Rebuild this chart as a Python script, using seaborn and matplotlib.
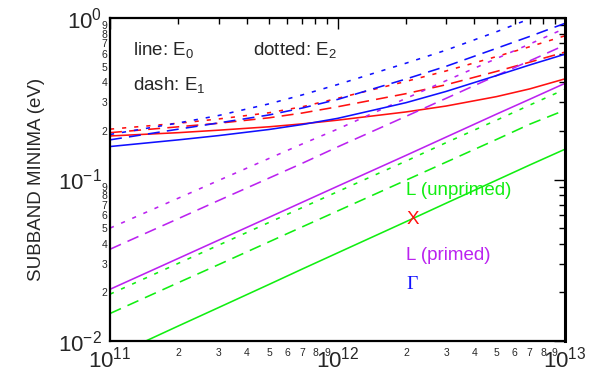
import numpy as np
import pandas as pd
import matplotlib
matplotlib.use("Agg")
import matplotlib.pyplot as plt
import matplotlib.ticker as mticker
import seaborn as sns

# ---- data ----
density = [1e11, 2e11, 3e11, 5e11, 7e11, 1e12, 2e12, 3e12, 5e12, 7e12, 1e13]

gamma_E0 = [0.160, 0.176, 0.187, 0.204, 0.219, 0.239, 0.299, 0.351, 0.440, 0.512, 0.597]
gamma_E1 = [0.176, 0.205, 0.224, 0.251, 0.277, 0.313, 0.419, 0.502, 0.649, 0.769, 0.927]
gamma_E2 = [0.190, 0.224, 0.249, 0.294, 0.334, 0.387, 0.525, 0.632, 0.822, 0.989, 1.190]

x_E0 = [0.186, 0.195, 0.202, 0.212, 0.221, 0.233, 0.262, 0.285, 0.326, 0.364, 0.420]
x_E1 = [0.195, 0.212, 0.223, 0.241, 0.258, 0.282, 0.340, 0.386, 0.467, 0.533, 0.615]
x_E2 = [0.205, 0.223, 0.237, 0.259, 0.282, 0.318, 0.405, 0.470, 0.577, 0.664, 0.776]

lp_E0 = [0.0209, 0.0325, 0.0421, 0.0583, 0.0723, 0.0908, 0.141, 0.183, 0.254, 0.314, 0.394]
lp_E1 = [0.0370, 0.0573, 0.0741, 0.102, 0.126, 0.159, 0.246, 0.318, 0.440, 0.543, 0.680]
lp_E2 = [0.0500, 0.0767, 0.0986, 0.135, 0.166, 0.205, 0.318, 0.409, 0.561, 0.690, 0.863]

lu_E0 = [0.0079, 0.0124, 0.0161, 0.0224, 0.0279, 0.0351, 0.0548, 0.0713, 0.099, 0.123, 0.154]
lu_E1 = [0.0148, 0.0230, 0.0297, 0.0411, 0.0509, 0.0638, 0.099, 0.128, 0.177, 0.220, 0.269]
lu_E2 = [0.0195, 0.0303, 0.0392, 0.0542, 0.0670, 0.084, 0.130, 0.169, 0.233, 0.289, 0.362]

valleys = ["L (unprimed)", "X", "L (primed)", "Gamma"]
levels = ["E0", "E1", "E2"]
series = {
    ("Gamma", "E0"): gamma_E0, ("Gamma", "E1"): gamma_E1, ("Gamma", "E2"): gamma_E2,
    ("X", "E0"): x_E0, ("X", "E1"): x_E1, ("X", "E2"): x_E2,
    ("L (primed)", "E0"): lp_E0, ("L (primed)", "E1"): lp_E1, ("L (primed)", "E2"): lp_E2,
    ("L (unprimed)", "E0"): lu_E0, ("L (unprimed)", "E1"): lu_E1, ("L (unprimed)", "E2"): lu_E2,
}

rows = []
for (v, lev), vals in series.items():
    for n, e in zip(density, vals):
        rows.append({"N": n, "E": e, "valley": v, "level": lev})
df = pd.DataFrame(rows)

# ---- style ----
sns.set_style("white")
plt.rcParams["font.family"] = ["Liberation Sans", "DejaVu Sans"]
plt.rcParams["mathtext.default"] = "regular"

palette = {"L (unprimed)": "#11ee11", "X": "#ff1010",
           "L (primed)": "#bb22f0", "Gamma": "#1010ff"}
dashes = {"E0": "", "E1": (7.5, 4.5), "E2": (2.6, 5.0)}

fig = plt.figure(figsize=(6.02, 3.75), dpi=100)
ax = fig.add_axes([110 / 602, 1 - 341 / 375, 455 / 602, 323 / 375])

sns.lineplot(data=df, x="N", y="E", hue="valley", style="level",
             palette=palette, dashes=dashes, hue_order=valleys,
             style_order=levels, estimator=None,
             linewidth=1.15, legend=False, ax=ax)

ax.set_xscale("log")
ax.set_yscale("log")
ax.set_xlim(1e11, 1e13)
ax.set_ylim(1e-2, 1e0)

# ticks
ax.xaxis.set_major_locator(mticker.FixedLocator([1e11, 1e12, 1e13]))
ax.yaxis.set_major_locator(mticker.FixedLocator([1e-2, 1e-1, 1e0]))
ax.xaxis.set_minor_locator(mticker.LogLocator(base=10, subs=np.arange(2, 10)))
ax.yaxis.set_minor_locator(mticker.LogLocator(base=10, subs=np.arange(2, 10)))


def major_fmt(v, pos):
    e = int(round(np.log10(v)))
    return r"$\mathregular{10^{%d}}$" % e if e >= 0 else r"$\mathregular{10^{-%d}}$" % (-e)


def minor_fmt(v, pos):
    e = np.floor(np.log10(v) + 1e-9)
    d = int(round(v / 10 ** e))
    return str(d)


ax.xaxis.set_major_formatter(mticker.FuncFormatter(major_fmt))
ax.yaxis.set_major_formatter(mticker.FuncFormatter(major_fmt))
ax.xaxis.set_minor_formatter(mticker.FuncFormatter(minor_fmt))
ax.yaxis.set_minor_formatter(mticker.FuncFormatter(minor_fmt))

ax.tick_params(which="both", direction="in", top=True, right=True,
               color="black", width=1.0)
ax.tick_params(which="major", length=8)
ax.tick_params(which="minor", length=4.5)
ax.tick_params(axis="y", which="major", labelsize=16, pad=6)
ax.tick_params(axis="x", which="major", labelsize=16, pad=4)
ax.tick_params(axis="y", which="minor", labelsize=7.5, pad=2)
ax.tick_params(axis="x", which="minor", labelsize=7.5, pad=5)

for s in ax.spines.values():
    s.set_linewidth(1.6)
    s.set_color("black")
ax.spines["right"].set_linewidth(2.2)

ax.set_xlabel("")
ax.set_ylabel("SUBBAND MINIMA (eV)", fontsize=13.5, labelpad=9)

# annotations
tk = dict(transform=ax.transAxes, va="center", ha="left", fontsize=13.5)
ax.text(0.05, 0.90, r"line: $\mathregular{E_0}$", **tk)
ax.text(0.05, 0.793, r"dash: $\mathregular{E_1}$", **tk)
ax.text(0.314, 0.90, r"dotted: $\mathregular{E_2}$", **tk)
ax.text(0.651, 0.467, "L (unprimed)", color=palette["L (unprimed)"], **tk)
ax.text(0.651, 0.375, "X", color=palette["X"], **tk)
ax.text(0.651, 0.266, "L (primed)", color=palette["L (primed)"], **tk)
ax.text(0.651, 0.175, "Γ", color=palette["Gamma"], transform=ax.transAxes,
        va="center", ha="left", fontsize=14,
        family=["Liberation Serif", "DejaVu Serif"])

fig.savefig("out.png", dpi=100)
